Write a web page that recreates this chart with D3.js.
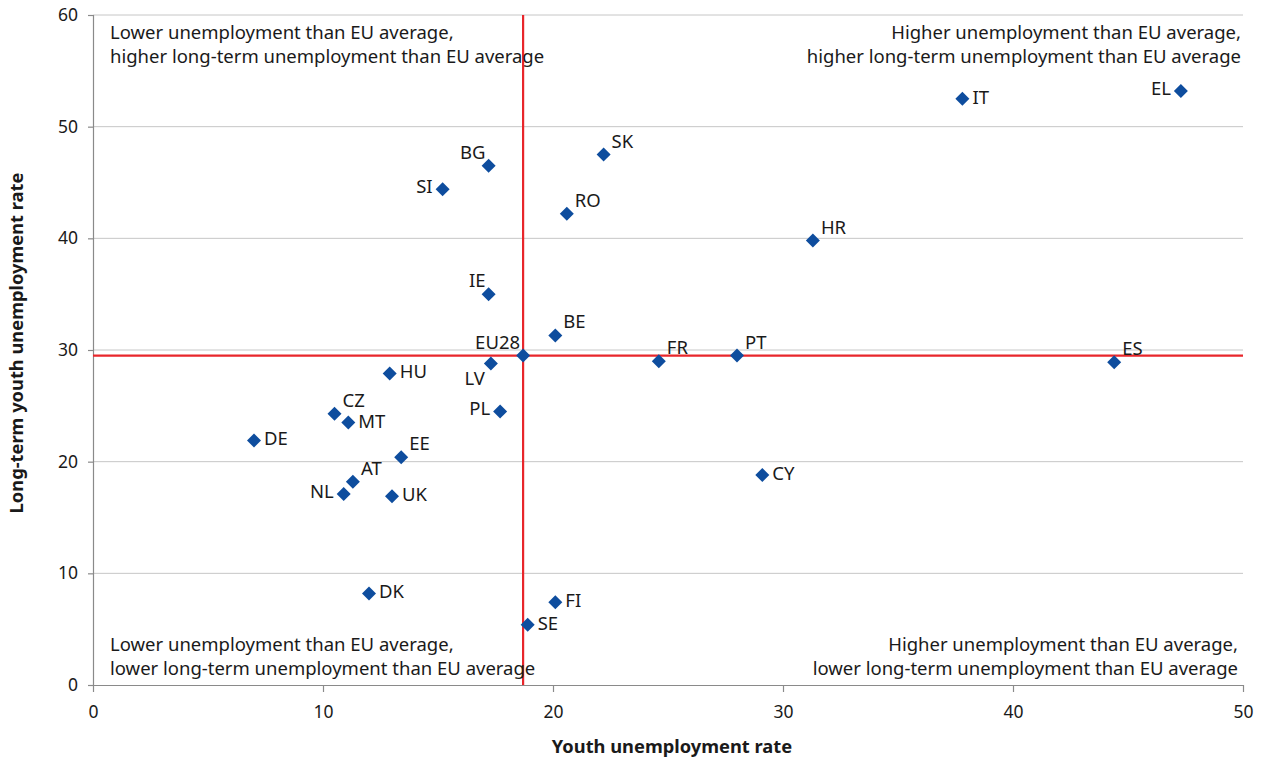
<!DOCTYPE html>
<html><head><meta charset="utf-8">
<script src="https://cdn.jsdelivr.net/npm/d3@7"></script>
<style>
body{margin:0;background:#fff;}
text{font-family:"Source Sans Pro","Noto Sans",sans-serif;fill:#1a1a1a;}
</style></head><body>
<svg id="c" width="1267" height="763"></svg>
<script>
const countries = ["EU28","IT","EL","SK","BG","SI","RO","HR","IE","BE","LV","FR","PT","ES","HU","CZ","MT","PL","DE","EE","AT","NL","UK","CY","DK","FI","SE"];
const youthRate = [18.7,37.8,47.3,22.2,17.2,15.2,20.6,31.3,17.2,20.1,17.3,24.6,28.0,44.4,12.9,10.5,11.1,17.7,7.0,13.4,11.3,10.9,13.0,29.1,12.0,20.1,18.9];
const longTermRate = [29.5,52.5,53.2,47.5,46.5,44.4,42.2,39.8,35.0,31.3,28.8,29.0,29.5,28.9,27.9,24.3,23.5,24.5,21.9,20.4,18.2,17.1,16.9,18.8,8.2,7.4,5.4];
// label placement: r=right, ra=right-above, l=left, la=left-above, lb=left-below
const labelPos = ["la","r","l","ra","la","l","ra","ra","la","ra","lb","ra","ra","ra","r","ra","r","l","r","ra","ra","l","r","r","r","r","r"];
const xTicks = [0,10,20,30,40,50];
const yTicks = [0,10,20,30,40,50,60];
const quadrantText = [
  ["Lower unemployment than EU average,","higher long-term unemployment than EU average"],
  ["Higher unemployment than EU average,","higher long-term unemployment than EU average"],
  ["Lower unemployment than EU average,","lower long-term unemployment than EU average"],
  ["Higher unemployment than EU average,","lower long-term unemployment than EU average"]
];
const xTitle = "Youth unemployment rate";
const yTitle = "Long-term youth unemployment rate";

const FF = '"Source Sans Pro","Noto Sans",sans-serif';
const svg = d3.select("#c");
const L=93,R=1243,T=15,B=685;
const x = d3.scaleLinear().domain([0,50]).range([L,R]);
const y = d3.scaleLinear().domain([0,60]).range([B,T]);

// gridlines
svg.append("g").selectAll("line").data(yTicks.filter(d=>d>0)).join("line")
  .attr("x1",L).attr("x2",R).attr("y1",d=>y(d)).attr("y2",d=>y(d))
  .attr("stroke","#c6c6c6").attr("stroke-width",1);

// axes
const xa = svg.append("g").attr("transform",`translate(0,${B})`)
  .call(d3.axisBottom(x).tickValues(xTicks).tickSize(7).tickPadding(14));
const ya = svg.append("g").attr("transform",`translate(${L},0)`)
  .call(d3.axisLeft(y).tickValues(yTicks).tickSize(5).tickPadding(10));
[xa,ya].forEach(a=>{
  a.selectAll("path,line").attr("stroke","#8a8a8a").attr("stroke-width",1.2);
  a.selectAll("text").style("font-family",FF).style("font-size","17.5px").attr("fill","#1a1a1a");
});
xa.select("path").attr("d",`M${L},0.5H${R}`);
ya.select("path").attr("d",`M0.5,${B}V${T}`);

// EU average lines
const eu = 0;
svg.append("line").attr("x1",x(youthRate[eu])).attr("x2",x(youthRate[eu])).attr("y1",T).attr("y2",B)
  .attr("stroke","#e8262b").attr("stroke-width",2.2);
svg.append("line").attr("x1",L).attr("x2",R).attr("y1",y(longTermRate[eu])).attr("y2",y(longTermRate[eu]))
  .attr("stroke","#e8262b").attr("stroke-width",2.2);

// quadrant text
const qFont = 18.5;
const qGap = 24;
const qpos = [
  {x:L+17, y:T+19, anchor:"start"},
  {x:R-2, y:T+19, anchor:"end"},
  {x:L+17, y:B-39, anchor:"start"},
  {x:R-5, y:B-39, anchor:"end"}
];
quadrantText.forEach((lines,i)=>{
  lines.forEach((ln,j)=>svg.append("text").attr("x",qpos[i].x).attr("y",qpos[i].y+j*qGap)
    .attr("text-anchor",qpos[i].anchor).style("font-size",qFont+"px").attr("dominant-baseline","middle").text(ln));
});

// points
const data = countries.map((c,i)=>({c,x:youthRate[i],y:longTermRate[i],p:labelPos[i]}));
const diamond = d3.symbol().type(d3.symbolDiamond2).size(125);
svg.append("g").selectAll("path").data(data).join("path")
  .attr("d",diamond).attr("transform",d=>`translate(${x(d.x)},${y(d.y)})`)
  .attr("fill","#0e4d9e");

// labels
const off = {r:[10,0,"start"],ra:[8,-12,"start"],l:[-10,-1,"end"],la:[-3,-12,"end"],lb:[-6,17,"end"]};
svg.append("g").selectAll("text").data(data).join("text")
  .attr("x",d=>x(d.x)+off[d.p][0]).attr("y",d=>y(d.y)+off[d.p][1])
  .attr("text-anchor",d=>off[d.p][2]).attr("dominant-baseline","middle")
  .style("font-size","18.5px").text(d=>d.c);

// titles
svg.append("text").attr("x",672).attr("y",748).attr("text-anchor","middle")
  .attr("dominant-baseline","middle").style("font-size","18.3px").style("font-weight","bold").text(xTitle);
svg.append("text").attr("transform",`translate(18,343) rotate(-90)`).attr("text-anchor","middle")
  .attr("dominant-baseline","middle").style("font-size","18.3px").style("font-weight","bold").text(yTitle);
</script>
</body></html>
